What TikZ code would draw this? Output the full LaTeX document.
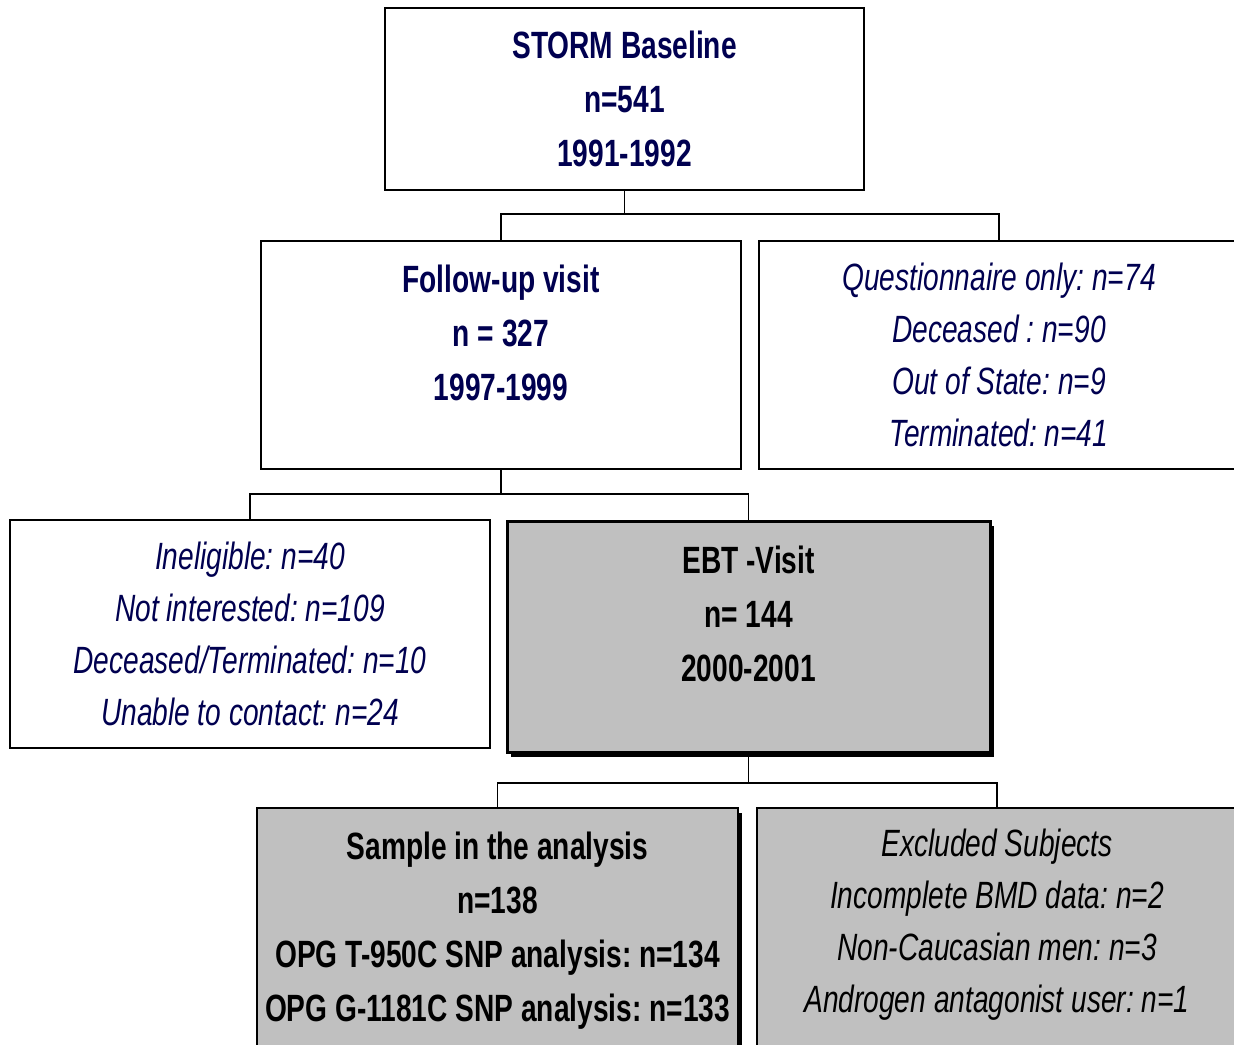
\documentclass[tikz,border=0pt]{standalone}
\usepackage{fontspec}
\setmainfont{Liberation Sans}[FakeStretch=0.74]
\frenchspacing
\usetikzlibrary{shadows}
\definecolor{navy}{RGB}{0,0,80}
\definecolor{boxgray}{RGB}{192,192,192}
\begin{document}
\begin{tikzpicture}[x=1pt,y=-1pt,
  box/.style={draw=black, line width=1.5pt, fill=white, inner sep=0pt, minimum height=228pt, minimum width=480pt},
  graybox/.style={box, fill=boxgray},
  shad/.style={drop shadow={shadow xshift=4pt, shadow yshift=-5pt, opacity=1, fill=black}},
  btxt/.style={align=center, text=navy, font=\fontsize{38}{54}\selectfont\bfseries\frenchspacing, inner sep=0pt},
  itxt/.style={align=center, text=navy, font=\fontsize{38}{52}\selectfont\itshape\frenchspacing, inner sep=0pt},
  conn/.style={draw=black, line width=1.5pt}
]
\useasboundingbox (0,0) rectangle (1234,1044);
\clip (0,0) rectangle (1234,1044);
\fill[white] (0,0) rectangle (1234,1044);

% boxes
\node[box, minimum width=479pt, minimum height=182pt] (top) at (624.5,99) {};
\node[box] (fu) at (501,355) {};
\node[box] (qo) at (999,355) {};
\node[box] (inel) at (250,634) {};
\node[graybox, shad, line width=3pt, minimum width=483pt, minimum height=231pt] (ebt) at (748.5,636.5) {};
\node[graybox, shad, minimum width=481pt, minimum height=260pt] (samp) at (497.5,938) {};
\node[graybox, shad, minimum height=260pt] (excl) at (997,938) {};

% texts
\node[btxt] (ttop) at (624.5,98.5) {STORM Baseline\\n=541\\1991-1992};
\node[btxt] (tfu) at (501,333) {Follow-up visit\\n = 327\\1997-1999};
\node[itxt] (tqo) at (999,355) {Questionnaire only: n=74\\Deceased : n=90\\Out of State: n=9\\Terminated: n=41};
\node[itxt] (tinel) at (250,634) {Ineligible: n=40\\Not interested: n=109\\Deceased/Terminated: n=10\\Unable to contact: n=24};
\node[btxt, text=black] (tebt) at (748.5,614) {EBT -Visit\\n= 144\\2000-2001};
\node[btxt, text=black] (tsamp) at (497.5,930.5) {Sample in the analysis\\n=138\\OPG T-950C SNP analysis: n=134\\OPG G-1181C SNP analysis: n=133};
\node[itxt, text=black] (texcl) at (997,925) {Excluded Subjects\\Incomplete BMD data: n=2\\Non-Caucasian men: n=3\\Androgen antagonist user: n=1};

% connectors
\coordinate (j1) at (624.5,214);
\draw[conn] (top.south) -- (j1);
\draw[conn] (j1) -| (fu.north);
\draw[conn] (j1) -| (qo.north);
\coordinate (j2) at (501,494);
\draw[conn] (fu.south) -- (j2);
\draw[conn] (j2) -| (inel.north);
\draw[conn] (j2) -| (ebt.north);
\coordinate (j3) at (748.5,783);
\draw[conn] (ebt.south) -- (j3);
\draw[conn] (j3) -| (samp.north);
\draw[conn] (j3) -| (excl.north);
\end{tikzpicture}
\end{document}
